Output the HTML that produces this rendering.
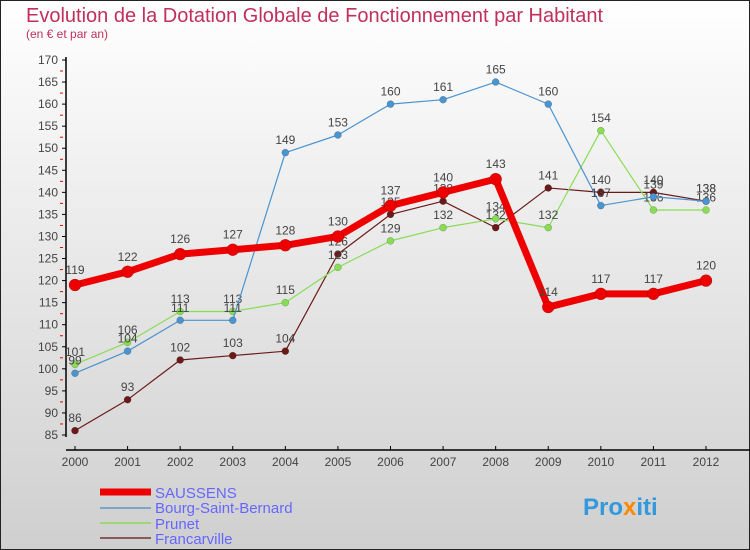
<!DOCTYPE html>
<html><head><meta charset="utf-8"><style>
body{margin:0}
#c{width:750px;height:550px;position:relative;overflow:hidden;font-family:"Liberation Sans",sans-serif}
</style></head><body>
<div id="c">
<svg id="s" width="750" height="550" xmlns="http://www.w3.org/2000/svg">
<defs><linearGradient id="bg" x1="0" y1="0" x2="0" y2="1"><stop offset="0" stop-color="#ffffff"/><stop offset="1" stop-color="#cfcfcf"/></linearGradient></defs>
<rect x="0.5" y="0.5" width="749" height="549" fill="url(#bg)" stroke="#222"/>
<text x="26" y="22" font-size="20" fill="#c0305a">Evolution de la Dotation Globale de Fonctionnement par Habitant</text>
<text x="26" y="38" font-size="12" fill="#c0305a">(en € et par an)</text>
<g id="axes"></g><g id="series"></g>
<g>
<line x1="100" y1="492" x2="151" y2="492" stroke="#e00" stroke-width="7"/>
<text x="155" y="498" font-size="15" fill="#6666ff">SAUSSENS</text>
<line x1="100" y1="508" x2="151" y2="508" stroke="#7aa6c8" stroke-width="2"/>
<text x="155" y="513" font-size="15" fill="#6666ff">Bourg-Saint-Bernard</text>
<line x1="100" y1="523" x2="151" y2="523" stroke="#9ed67a" stroke-width="2"/>
<text x="155" y="529" font-size="15" fill="#6666ff">Prunet</text>
<line x1="100" y1="538" x2="151" y2="538" stroke="#8a5a5a" stroke-width="2"/>
<text x="155" y="544" font-size="15" fill="#6666ff">Francarville</text>
</g>
<text x="583" y="515" font-size="24" font-weight="bold" fill="#3399dd">Pro<tspan fill="#ff8800">x</tspan>iti</text>
</svg>
</div>
<script>
const years=[2000,2001,2002,2003,2004,2005,2006,2007,2008,2009,2010,2011,2012];
const saussens=[119,122,126,127,128,130,137,140,143,114,117,117,120];
const bourg=[99,104,111,111,149,153,160,161,165,160,137,139,138];
const prunet=[101,106,113,113,115,123,129,132,134,132,154,136,136];
const francarville=[86,93,102,103,104,126,135,138,132,141,140,140,138];
const yTicks=[85,90,95,100,105,110,115,120,125,130,135,140,145,150,155,160,165,170];
const NS="http://www.w3.org/2000/svg";
const X=i=>75+i*(706-75)/12;
const Y=v=>435-(v-85)*(375/85);
function mk(t,a,p){const e=document.createElementNS(NS,t);for(const k in a)e.setAttribute(k,a[k]);p.appendChild(e);return e;}
const ax=document.getElementById('axes');
let l=mk('line',{x1:66,y1:57,x2:66,y2:437,stroke:'#000','stroke-width':1.5},ax);


l=mk('line',{x1:66,y1:450,x2:750,y2:450,stroke:'#000','stroke-width':1.5},ax);


yTicks.forEach(v=>{
 mk('line',{x1:62,y1:Y(v),x2:66,y2:Y(v),stroke:'#000'},ax);
 if(v<170) mk('line',{x1:60,y1:Y(v+2.5),x2:63,y2:Y(v+2.5),stroke:'#e00'},ax);
 const t=mk('text',{x:58,y:Y(v)+4,'font-size':12,fill:'#444','text-anchor':'end'},ax);
 t.textContent=v;
 
 
});
years.forEach((yr,i)=>{
 mk('line',{x1:X(i),y1:446,x2:X(i),y2:450,stroke:'#000'},ax);
 const t=mk('text',{x:X(i),y:466,'font-size':12,fill:'#444','text-anchor':'middle'},ax);
 t.textContent=yr;
 
 
});
const sg=document.getElementById('series');
function draw(vals,col,w,r,name){
 const g=mk('g',{},sg);
 
 
 const p=mk('polyline',{points:vals.map((v,i)=>X(i)+','+Y(v)).join(' '),fill:'none',stroke:col,'stroke-width':w,'stroke-linejoin':'round'},g);
 
 
 vals.forEach((v,i)=>{
  const c=mk('circle',{cx:X(i),cy:Y(v),r:r,fill:col,stroke:'rgba(0,0,0,0.3)','stroke-width':0.5},g);
  
  
  const t=mk('text',{x:X(i),y:Y(v)-r-5,'font-size':12,fill:'#444','text-anchor':'middle'},g);
  t.textContent=v;
  
  
 });
}
draw(francarville,'#6b1a1a',1.2,3.5,'francarville');
draw(prunet,'#88dd55',1.2,3.5,'prunet');
draw(bourg,'#4a94d0',1.2,3.5,'bourg');
draw(saussens,'#ee0000',7,6,'saussens');
</script>
</body></html>
